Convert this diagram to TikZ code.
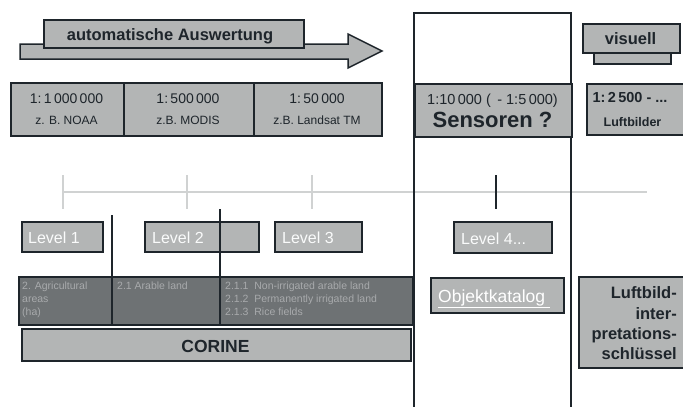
\documentclass[tikz,border=0pt]{standalone}
\usepackage{fontspec}
\setmainfont{Liberation Sans}
\definecolor{dk}{HTML}{1E252B}
\definecolor{gy}{HTML}{B3B5B5}
\definecolor{lg}{HTML}{D0D2D2}
\definecolor{barfill}{HTML}{6E7274}
\definecolor{bartxt}{HTML}{A8AAAC}
\newcommand{\fs}[1]{\fontsize{#1}{#1}\selectfont}
\begin{document}
\begin{tikzpicture}[x=1pt,y=-1pt,
  gbox/.style={draw=dk, fill=gy, line width=1.5pt, inner sep=0pt, anchor=north west},
  txt/.style={text=dk, inner sep=0pt, anchor=base},
  lvltxt/.style={text=white!94!gy, inner sep=0pt, anchor=base west, font=\fs{16}},
  smalltxt/.style={text=bartxt, inner sep=0pt, anchor=base west, font=\fs{10.5}},
  colline/.style={draw=dk, line width=2.4pt},
  divline/.style={draw=dk, line width=2.2pt},
  tl/.style={draw=lg, line width=2.4pt}]
\useasboundingbox (0,0) rectangle (683,407);
\fill[white] (0,0) rectangle (683,407);

% arrow with label
\draw[draw=dk, fill=gy, line width=1.5pt] (20,44) -- (348,44) -- (348,34) -- (382,51) -- (348,68) -- (348,59) -- (20,59) -- cycle;
\node[gbox, minimum width=260, minimum height=28] (auto) at (43,19) {};
\node[txt, font=\bfseries\fs{16.5}] (autot) at (170,40) {automatische Auswertung};

% timeline
\coordinate (t0) at (63,192);
\coordinate (t1) at (647,192);
\draw[tl] (t0) -- (t1);
\coordinate (k1a) at (63,175); \coordinate (k1b) at (63,209);
\coordinate (k2a) at (187,175); \coordinate (k2b) at (187,209);
\coordinate (k3a) at (312,175); \coordinate (k3b) at (312,209);
\coordinate (k4a) at (496,175); \coordinate (k4b) at (496,209);
\draw[tl] (k1a) -- (k1b);
\draw[tl] (k2a) -- (k2b);
\draw[tl] (k3a) -- (k3b);
\draw[divline] (k4a) -- (k4b);

% sensor column
\coordinate (cA) at (414,407);
\coordinate (cB) at (414,13);
\coordinate (cC) at (571,13);
\coordinate (cD) at (571,407);
\draw[colline, line join=miter] (cA) -- (cB) -- (cC) -- (cD);

% scale boxes
\node[gbox, minimum width=113, minimum height=53] (s1) at (10,82) {};
\node[gbox, minimum width=130, minimum height=53] (s2) at (123,82) {};
\node[gbox, minimum width=128, minimum height=53] (s3) at (253,82) {};
\node[txt, font=\fs{14}] (s1a) at (66.5,103) {1:\,1\,000\,000};
\node[txt, font=\fs{12}] (s1b) at (66.5,124) {z. B. NOAA};
\node[txt, font=\fs{14}] (s2a) at (188,103) {1:\,500\,000};
\node[txt, font=\fs{12}] (s2b) at (188,124) {z.B. MODIS};
\node[txt, font=\fs{14}] (s3a) at (317,103) {1:\,50\,000};
\node[txt, font=\fs{12}] (s3b) at (317,124) {z.B. Landsat TM};

% Sensoren box
\node[gbox, line width=2.4pt, minimum width=157, minimum height=53] (sen) at (414,83) {};
\node[txt, font=\fs{14.5}] (sena) at (492.5,104) {1:10\,000 ( \,- 1:5\,000)};
\node[txt, font=\bfseries\fs{22}] (senb) at (492.5,127) {Sensoren ?};

% visuell
\node[gbox, minimum width=77, minimum height=11] (vtab) at (593,52) {};
\node[gbox, minimum width=97, minimum height=29] (vis) at (582,23) {};
\node[txt, font=\bfseries\fs{16.5}] (vist) at (630.5,44) {visuell};

% Luftbilder scale box
\node[gbox, minimum width=98, minimum height=51] (lb) at (586,83) {};
\node[txt, font=\bfseries\fs{14.5}] (lba) at (630,102) {1:\,2\,500 - ...};
\node[txt, font=\bfseries\fs{12.5}] (lbb) at (632.5,126) {Luftbilder};

% levels
\node[gbox, minimum width=81, minimum height=30] (l1) at (21,221) {};
\node[gbox, minimum width=114, minimum height=30] (l2) at (144,221) {};
\node[gbox, minimum width=87, minimum height=30] (l3) at (274,221) {};
\node[gbox, minimum width=98, minimum height=31] (l4) at (453,221) {};
\node[lvltxt] (l1t) at (28,243.5) {Level 1};
\node[lvltxt] (l2t) at (152,243.5) {Level 2};
\node[lvltxt] (l3t) at (282,243.5) {Level 3};
\node[lvltxt] (l4t) at (461,244) {Level 4...};

% CORINE dark bar
\node[gbox, fill=barfill, line width=2pt, minimum width=394, minimum height=48] (bar) at (18,276) {};
\node[smalltxt] (b1) at (22,289) {2. Agricultural};
\node[smalltxt] (b2) at (22,302) {areas};
\node[smalltxt] (b3) at (22,315) {(ha)};
\node[smalltxt] (b4) at (117,289) {2.1 Arable land};
\node[smalltxt] (b5) at (225,289) {2.1.1 \ Non-irrigated arable land};
\node[smalltxt] (b6) at (225,302) {2.1.2 \ Permanently irrigated land};
\node[smalltxt] (b7) at (225,315) {2.1.3 \ Rice fields};

% divider lines
\coordinate (d1a) at (112,215); \coordinate (d1b) at (112,324);
\coordinate (d2a) at (220,209); \coordinate (d2b) at (220,324);
\draw[divline] (d1a) -- (d1b);
\draw[divline] (d2a) -- (d2b);

\node[gbox, minimum width=389, minimum height=32] (cor) at (21,328) {};
\node[txt, font=\bfseries\fs{17.5}] (cort) at (215.5,352) {CORINE};

% Objektkatalog
\node[gbox, minimum width=133, minimum height=35] (obj) at (430,277) {};
\node[txt, anchor=base west, text=white, font=\fs{17.5}] (objt) at (438,302) {\underline{Objektkatalog\ }};

% Luftbild-interpretationsschluessel
\node[gbox, minimum width=106, minimum height=91] (lis) at (578,276) {};
\node[txt, anchor=base east, font=\bfseries\fs{16.5}] (li1) at (677,298) {Luftbild-};
\node[txt, anchor=base east, font=\bfseries\fs{16.5}] (li2) at (677,319) {inter-};
\node[txt, anchor=base east, font=\bfseries\fs{16.5}] (li3) at (677,339) {pretations-};
\node[txt, anchor=base east, font=\bfseries\fs{16.5}] (li4) at (677,359.5) {schlüssel};
\end{tikzpicture}
\end{document}
